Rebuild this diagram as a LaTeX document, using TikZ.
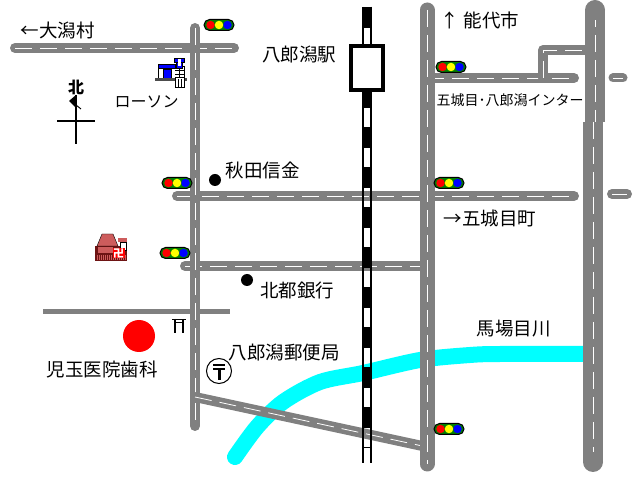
\documentclass[tikz,border=0pt]{standalone}
\usepackage{fontspec}
\setmainfont{Noto Sans CJK JP}
\definecolor{roofred}{RGB}{205,92,92}
\definecolor{darkred}{RGB}{110,20,20}
\definecolor{signalgreen}{RGB}{0,128,0}
\definecolor{rivercyan}{RGB}{0,255,255}
\definecolor{roadgray}{RGB}{128,128,128}
\definecolor{lampred}{RGB}{255,0,0}
\definecolor{lampyellow}{RGB}{255,255,0}
\definecolor{lampblue}{RGB}{0,0,255}
\begin{document}
\begin{tikzpicture}[x=1pt,y=-1pt,
    road/.style ={draw=roadgray, line width=#1, line cap=round,
      postaction={draw=white, line width=0.8pt, line cap=butt, dash pattern=on 17pt off 8pt}},
    label/.style ={inner sep=0pt, font=\fontsize{18.5}{18.5}\selectfont},
    smalllabel/.style ={inner sep=0pt, font=\fontsize{14}{14}\selectfont},
    dot/.style ={circle, fill=black, inner sep=0pt, minimum size=12pt},
    signal/.style ={draw=black, fill=signalgreen, line width=1pt, rounded corners=5.5pt,
      minimum width=30pt, minimum height=11pt, inner sep=0pt},
    lamp/.style ={circle, fill=#1, inner sep=0pt, minimum size=8.5pt}]
   \useasboundingbox (0,0) rectangle (638,478);

   % road ends
   \coordinate (westL) at (15,48);
   \coordinate (westR) at (234,48);
   \coordinate (leftT) at (195,28);
   \coordinate (leftB) at (195,426);
   \coordinate (midL) at (177,196);
   \coordinate (midR) at (574,196);
   \coordinate (lowL) at (185,266);
   \coordinate (lowR) at (427,266);
   \coordinate (clinicL) at (43,312);
   \coordinate (clinicR) at (230,312);
   \coordinate (mainT) at (427,10);
   \coordinate (mainB) at (427,464);
   \coordinate (eastT) at (595,10);
   \coordinate (eastK) at (595,122);
   \coordinate (eastJ) at (593,122);
   \coordinate (eastB) at (593,462);
   \coordinate (interL) at (427,78);
   \coordinate (interR) at (574,78);
   \coordinate (rampA) at (543,78);
   \coordinate (rampB) at (543,50);
   \coordinate (rampC) at (595,50);
   \coordinate (stubAL) at (613,78);
   \coordinate (stubAR) at (623,78);
   \coordinate (stubBL) at (612,194);
   \coordinate (stubBR) at (627,194);
   \coordinate (diagL) at (195,397);
   \coordinate (diagR) at (427,447);
   \coordinate (railT) at (367,7);
   \coordinate (railB) at (367,463);
   \coordinate (railS) at (367,448);

   % river
   \draw[rivercyan, line width=16pt, line cap=round, line join=round]
     plot[smooth, tension=0.5] coordinates {(235,457) (257,427) (283,402) (320,382)
       (363,373) (420,360) (470,355) (500,354) (590,354)};

   % roads
   \draw[roadgray, line width=5pt] (clinicL) to (clinicR);
   \draw[road=10pt] (westL) to (westR);
   \draw[road=10pt] (midL) to (midR);
   \draw[road=10pt] (lowL) to (lowR);
   \draw[road=10pt] (leftT) to (leftB);
   \draw[road=10pt] (diagL) to (diagR);
   \draw[road=10pt] (interL) to (interR);
   \draw[road=10pt, line join=round] (rampA) -- (rampB) -- (rampC);
   \draw[road=15pt] (mainT) to (mainB);
   \draw[road=20pt, line cap=butt] (eastJ) to (eastB);
   \fill[roadgray] (eastB) circle (10pt);
   \draw[road=20pt, line cap=butt] (eastT) to (eastK);
   \fill[roadgray] (eastT) circle (10pt);
   \draw[road=9pt] (stubAL) to (stubAR);
   \draw[road=10pt] (stubBL) to (stubBR);

   % railway
   \draw[black, line width=2pt] ([xshift=-4pt]railT) to ([xshift=-4pt]railB);
   \draw[black, line width=2pt] ([xshift=4pt]railT) to ([xshift=4pt]railB);
   \draw[black, line width=10pt, dash pattern=on 21pt off 19pt] (railT) to (railS);
   \node[draw=black, fill=white, line width=4pt, minimum width=32pt, minimum height=44pt,
     inner sep=0pt] (station) at (367,68) {};

   % signals
   \foreach \n/\x/\y in {a/219/25, b/177/183, c/175/253, d/451/67, e/449/183, f/449/429} {
     \node[signal] (sig\n) at (\x,\y) {};
     \node[lamp=lampred] (red\n) at ([xshift=-8.5pt]sig\n.center) {};
     \node[lamp=lampyellow] (yellow\n) at (sig\n.center) {};
     \node[lamp=lampblue] (blue\n) at ([xshift=8.5pt]sig\n.center) {};
   }

   % north sign
   \coordinate (northT) at (76,95);
   \coordinate (northB) at (76,144);
   \coordinate (northL) at (57,121);
   \coordinate (northR) at (95,121);
   \draw[line width=2pt] (northT) to (northB);
   \draw[line width=2pt] (northL) to (northR);
   \fill (northT) -- (69,101) -- (76,108) -- cycle;
   \draw[line width=1pt] (76,105) to (81,109);
   \node[inner sep=0pt, font=\fontsize{16}{16}\selectfont\bfseries] (north) at (76,87) {北};

   % shop
   \draw[black, fill=white] (158,66) rectangle (184,79);
   \draw[black, line width=0.7pt] (175,70) to (184,70);
   \draw[black, line width=0.7pt] (175,74) to (184,74);
   \draw[black, line width=0.7pt] (179.5,66) to (179.5,79);
   \draw[black, fill=lampblue] (158,64) rectangle (175,68);
   \draw[black, fill=lampblue] (163,69) rectangle (171,79);
   \draw[black, fill=lampblue] (176,62) rectangle (182,68);
   \draw[black, fill=lampblue] (174,58) rectangle (184,62);
   \fill[white] (177.5,59) rectangle (180.5,66);
   \fill[black!70] (155,78.5) rectangle (187,81.5);
   \draw[black, fill=white] (175,77) rectangle (184,87);
   \draw[black] (178,79) to (178,87);
   \draw[black] (181,79) to (181,87);

   % temple
   \fill[darkred] (95,246) rectangle (127,261);
   \fill[roofred] (98,247) rectangle (113,253);
   \foreach \x in {97,99,...,125} {
     \draw[roofred, line width=1pt] (\x,255) to (\x,260);
   }
   \draw[black, fill=roofred] (102,234) -- (113,234) -- (118,246) -- (97,246) -- cycle;
   \draw[black, fill=white] (120,242) rectangle (126,250);
   \fill[roofred] (118,238) rectangle (127,242);
   \node[fill=lampred, text=white, inner sep=0.5pt, font=\fontsize{11}{11}\selectfont\bfseries] (manji) at (118.5,253) {卍};

   % gate
   \draw[black] (172,319) to (186,319);
   \draw[black] (174,322) to (184,322);
   \draw[black, line width=1.2pt] (175,319) to (175,333);
   \draw[black, line width=1.2pt] (183,319) to (183,333);

   % places
   \node[dot] (bankA) at (215,180) {};
   \node[dot] (bankB) at (247,280) {};
   \node[circle, fill=lampred, inner sep=0pt, minimum size=32pt] (clinic) at (139,336) {};
   \node[circle, draw=black, fill=white, line width=1pt, inner sep=0pt, minimum size=25pt] (post) at (219,371) {};
   \draw[line width=2pt] (213,365) to (225,365);
   \draw[line width=2pt] (213,369.5) to (225,369.5);
   \draw[line width=3pt] (219,369.5) to (219,380);

   % labels
   \node[label] (ogata) at (57.5,30) {←大潟村};
   \node[label] (eki) at (299,55) {八郎潟駅};
   \node[label, font=\fontsize{16}{16}\selectfont] (lawson) at (146.5,102) {ローソン};
   \node[label] (akita) at (262.5,170) {秋田信金};
   \node[label] (noshiro) at (480,20) {↑ 能代市};
   \node[smalllabel] (inter) at (510,100) {五城目･八郎潟インター};
   \node[label] (gojome) at (490,218) {→五城目町};
   \node[label] (hokuto) at (297,290) {北都銀行};
   \node[label] (yubin) at (284,352) {八郎潟郵便局};
   \node[label] (kodama) at (102,370) {児玉医院歯科};
   \node[label] (baba) at (513.5,329) {馬場目川};
 \end{tikzpicture}
\end{document}
